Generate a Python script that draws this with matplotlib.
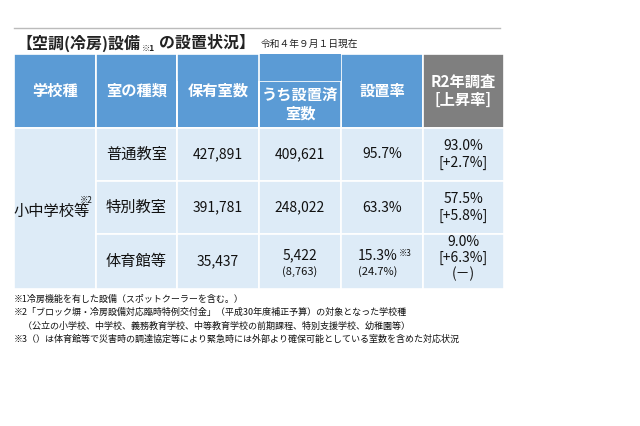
import matplotlib
matplotlib.use("Agg")
import matplotlib.pyplot as plt
from matplotlib.patches import Rectangle

plt.rcParams["font.family"] = "Noto Sans CJK JP"

title = "【空調(冷房)設備"
title2 = "の設置状況】"
date_note = "令和４年９月１日現在"
headers = ["学校種", "室の種類", "保有室数", "うち設置済\n室数", "設置率", "R2年調査\n[上昇率]"]
school_type = "小中学校等"
room_types = ["普通教室", "特別教室", "体育館等"]
rooms_total = ["427,891", "391,781", "35,437"]
rooms_installed = ["409,621", "248,022", "5,422"]
install_rate = ["95.7%", "63.3%", "15.3%"]
r2_rate = ["93.0%", "57.5%", "9.0%"]
r2_rise = ["[+2.7%]", "[+5.8%]", "[+6.3%]"]
gym_installed_alt = "(8,763)"
gym_rate_alt = "(24.7%)"
gym_r2_alt = "(－)"
footnotes = [
    "※1冷房機能を有した設備（スポットクーラーを含む。）",
    "※2「ブロック塀・冷房設備対応臨時特例交付金」（平成30年度補正予算）の対象となった学校種",
    "　（公立の小学校、中学校、義務教育学校、中等教育学校の前期課程、特別支援学校、幼稚園等）",
    "※3（）は体育館等で災害時の調達協定等により緊急時には外部より確保可能としている室数を含めた対応状況",
]

fig = plt.figure(figsize=(6.4, 4.26), dpi=100)
ax = fig.add_axes([0, 0, 1, 1])
ax.set_xlim(0, 640); ax.set_ylim(426, 0); ax.axis("off")

blue, gray, light = "#5B9BD5", "#7F7F7F", "#DDEBF7"
xs = [14, 96, 177, 259, 341, 423, 504]
hy0, hy1 = 54, 128
rows = [128, 181, 234, 289]

ax.plot([14, 500], [28, 28], color="#BBBBBB", lw=1)
t1 = ax.text(16, 43, title, fontsize=11.5, fontweight="bold", va="center", color="#222")
t2 = ax.annotate("※1", xy=(1, 0.2), xycoords=t1, xytext=(1, 0), textcoords="offset points",
                 fontsize=6, fontweight="bold", va="center", color="#222")
t3 = ax.annotate(title2, xy=(1, 0.5), xycoords=t1, xytext=(14, 0), textcoords="offset points",
                 fontsize=11.5, fontweight="bold", va="center", color="#222")
ax.annotate(date_note, xy=(1, 0.45), xycoords=t3, xytext=(4, 0), textcoords="offset points",
            fontsize=7, va="center", color="#222")

for i in range(6):
    c = gray if i == 5 else blue
    ax.add_patch(Rectangle((xs[i], hy0), xs[i+1]-xs[i], hy1-hy0, fc=c, ec="white", lw=1.2))
ax.add_patch(Rectangle((xs[3], 81), xs[4]-xs[3], hy1-81, fc=blue, ec="white", lw=1.2))
ax.add_patch(Rectangle((xs[2], hy0), xs[4]-xs[2], 81-hy0, fc=blue, ec="none"))
ax.add_patch(Rectangle((xs[2], hy0), xs[3]-xs[2], hy1-hy0, fc="none", ec="white", lw=1.2))
for i, h in enumerate(headers):
    cx = (xs[i] + xs[i+1]) / 2
    cy = 104 if i == 3 else 91
    ax.text(cx, cy, h, ha="center", va="center", color="white", fontsize=11,
            fontweight="bold", linespacing=1.2)

ax.add_patch(Rectangle((xs[0], rows[0]), xs[1]-xs[0], rows[3]-rows[0], fc=light, ec="white", lw=1.2))
ax.text(52, 211, school_type, ha="center", va="center", fontsize=11, color="#111")
ax.text(86, 200, "※2", ha="center", va="center", fontsize=6, color="#111")
for r in range(3):
    y0, y1 = rows[r], rows[r+1]
    cy = (y0 + y1) / 2
    for i in range(1, 6):
        ax.add_patch(Rectangle((xs[i], y0), xs[i+1]-xs[i], y1-y0, fc=light, ec="white", lw=1.2))
    ax.text((xs[1]+xs[2])/2, cy, room_types[r], ha="center", va="center", fontsize=11, color="#111")
    ax.text((xs[2]+xs[3])/2, cy, rooms_total[r], ha="center", va="center", fontsize=10, color="#111")
    if r < 2:
        ax.text((xs[3]+xs[4])/2, cy, rooms_installed[r], ha="center", va="center", fontsize=10, color="#111")
        ax.text((xs[4]+xs[5])/2, cy, install_rate[r], ha="center", va="center", fontsize=10, color="#111")
        ax.text((xs[5]+xs[6])/2, cy, r2_rate[r] + "\n" + r2_rise[r], ha="center", va="center",
                fontsize=10, color="#111", linespacing=1.25)
    else:
        ax.text((xs[3]+xs[4])/2, cy - 6, rooms_installed[r], ha="center", va="center", fontsize=10, color="#111")
        ax.text((xs[3]+xs[4])/2, cy + 10, gym_installed_alt, ha="center", va="center", fontsize=8, color="#111")
        ax.text((xs[4]+xs[5])/2 - 4, cy - 6, install_rate[r], ha="center", va="center", fontsize=10, color="#111")
        ax.text((xs[4]+xs[5])/2 + 23, cy - 8, "※3", ha="center", va="center", fontsize=6, color="#111")
        ax.text((xs[4]+xs[5])/2 - 4, cy + 10, gym_rate_alt, ha="center", va="center", fontsize=8, color="#111")
        ax.text((xs[5]+xs[6])/2, cy - 3, r2_rate[r] + "\n" + r2_rise[r] + "\n" + gym_r2_alt,
                ha="center", va="center", fontsize=10, color="#111", linespacing=1.15)

for k, f in enumerate(footnotes):
    ax.text(14, 299 + k * 13.5, f, fontsize=6.5, va="center", color="#111")

fig.savefig("out.png", dpi=100, facecolor="white")
